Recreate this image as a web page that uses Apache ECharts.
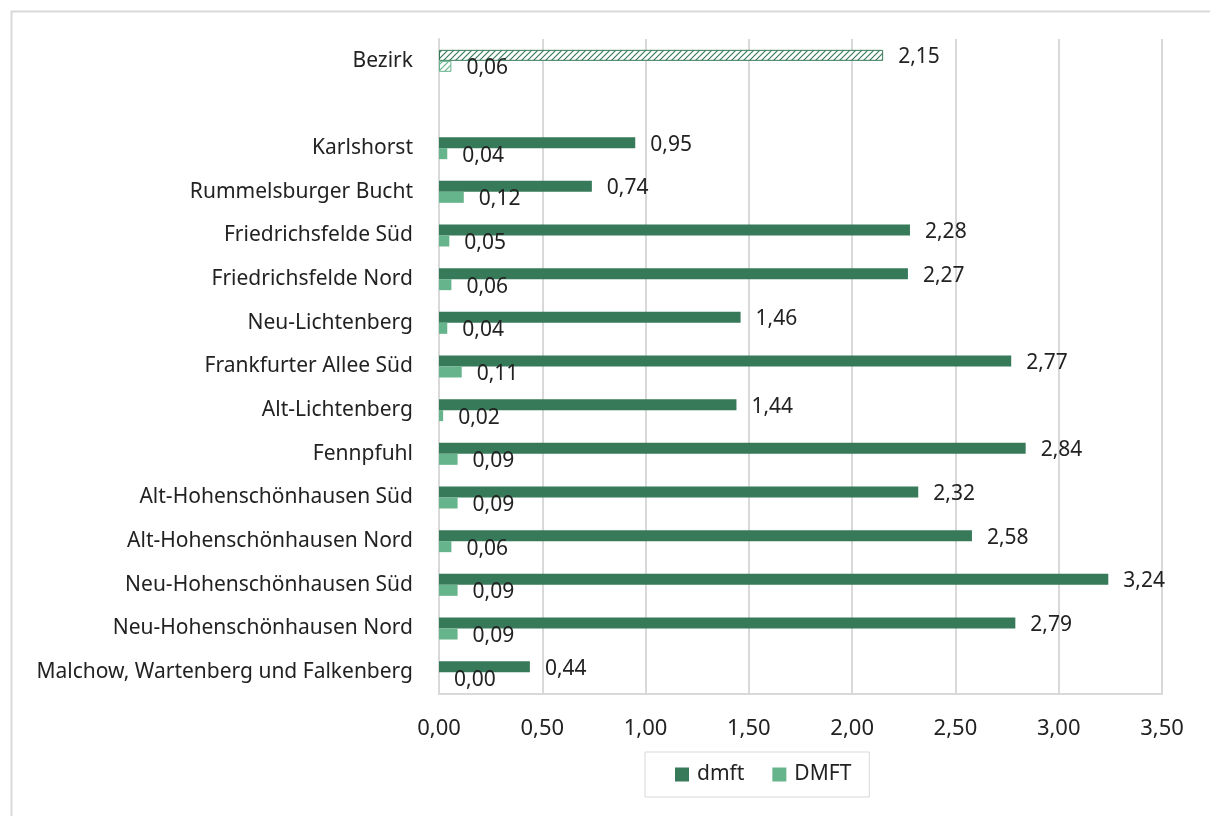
<!DOCTYPE html>
<html>
<head>
<meta charset="utf-8">
<script src="https://cdn.jsdelivr.net/npm/echarts@6/dist/echarts.min.js"></script>
<style>
  html, body { margin: 0; padding: 0; background: #fff; }
  #chart { width: 1210px; height: 816px; }
</style>
</head>
<body>
<div id="chart"></div>
<script>
    // Kategorien von oben nach unten (leere Zeile trennt Bezirk)
    var categories = ['Bezirk', '', 'Karlshorst', 'Rummelsburger Bucht', 'Friedrichsfelde Süd', 'Friedrichsfelde Nord',
        'Neu-Lichtenberg', 'Frankfurter Allee Süd', 'Alt-Lichtenberg', 'Fennpfuhl', 'Alt-Hohenschönhausen Süd',
        'Alt-Hohenschönhausen Nord', 'Neu-Hohenschönhausen Süd', 'Neu-Hohenschönhausen Nord', 'Malchow, Wartenberg und Falkenberg'];
    var dmft = [2.15, null, 0.95, 0.74, 2.28, 2.27, 1.46, 2.77, 1.44, 2.84, 2.32, 2.58, 3.24, 2.79, 0.44];
    var DMFT = [0.06, null, 0.04, 0.12, 0.05, 0.06, 0.04, 0.11, 0.02, 0.09, 0.09, 0.06, 0.09, 0.09, 0.00];
    var xTicks = [0, 0.5, 1, 1.5, 2, 2.5, 3, 3.5];

    var dark = '#377a5a', light = '#66b48b';
    var font = 'Noto Sans';

    function hatch(color) {
        var c = document.createElement('canvas');
        c.width = 6; c.height = 6;
        var ctx = c.getContext('2d');
        ctx.fillStyle = '#fff';
        ctx.fillRect(0, 0, 6, 6);
        ctx.strokeStyle = color;
        ctx.lineWidth = 1.2;
        ctx.beginPath();
        ctx.moveTo(0, 6); ctx.lineTo(6, 0);
        ctx.moveTo(-3, 3); ctx.lineTo(3, -3);
        ctx.moveTo(3, 9); ctx.lineTo(9, 3);
        ctx.stroke();
        return { image: c, repeat: 'repeat' };
    }

    function fmt(v) { return v.toFixed(2).replace('.', ','); }

    function seriesData(arr, color) {
        return arr.map(function (v, i) {
            if (v === null) return '-';
            if (i === 0) {
                return { value: v, itemStyle: { color: hatch(color), borderColor: color, borderWidth: 1 } };
            }
            return v;
        });
    }

    var myChart = echarts.init(document.getElementById('chart'));
    myChart.setOption({
        backgroundColor: '#fff',
        animation: false,
        textStyle: { fontFamily: font },
        graphic: [{
            type: 'rect', left: 9, top: 9,
            shape: { width: 1230, height: 830 },
            style: { fill: 'none', stroke: '#d9d9d9', lineWidth: 2 }
        }],
        grid: { left: 439, right: 48, top: 39, bottom: 122 },
        legend: {
            data: ['dmft', 'DMFT'],
            left: 645, top: 752,
            padding: [12, 18, 12, 30],
            borderColor: '#d9d9d9', borderWidth: 1,
            itemWidth: 14, itemHeight: 14, itemGap: 28,
            textStyle: { fontSize: 21, color: '#222', fontFamily: font, padding: [0, 0, 0, 3] },
            icon: 'rect'
        },
        xAxis: {
            type: 'value', min: 0, max: 3.5, interval: 0.5,
            axisLine: { show: true, lineStyle: { color: '#d9d9d9', width: 2 } },
            axisTick: { show: false },
            splitLine: { lineStyle: { color: '#d9d9d9', width: 2 } },
            axisLabel: { formatter: fmt, fontSize: 22, color: '#222', margin: 24 }
        },
        yAxis: {
            type: 'category', inverse: true, data: categories,
            axisLine: { show: true, lineStyle: { color: '#d9d9d9', width: 2 } },
            axisTick: { show: false },
            axisLabel: { fontSize: 21, color: '#222', margin: 26 }
        },
        series: [{
            name: 'dmft', type: 'bar', data: seriesData(dmft, dark),
            itemStyle: { color: dark }, barWidth: 11, barGap: '0%',
            label: { show: true, position: 'right', distance: 15, offset: [0, 2], formatter: function (p) { return fmt(p.value); }, fontSize: 21, color: '#222' }
        }, {
            name: 'DMFT', type: 'bar', data: seriesData(DMFT, light),
            itemStyle: { color: light }, barWidth: 11,
            label: { show: true, position: 'right', distance: 15, offset: [0, 2], formatter: function (p) { return fmt(p.value); }, fontSize: 21, color: '#222' }
        }]
    });
</script>
</body>
</html>
